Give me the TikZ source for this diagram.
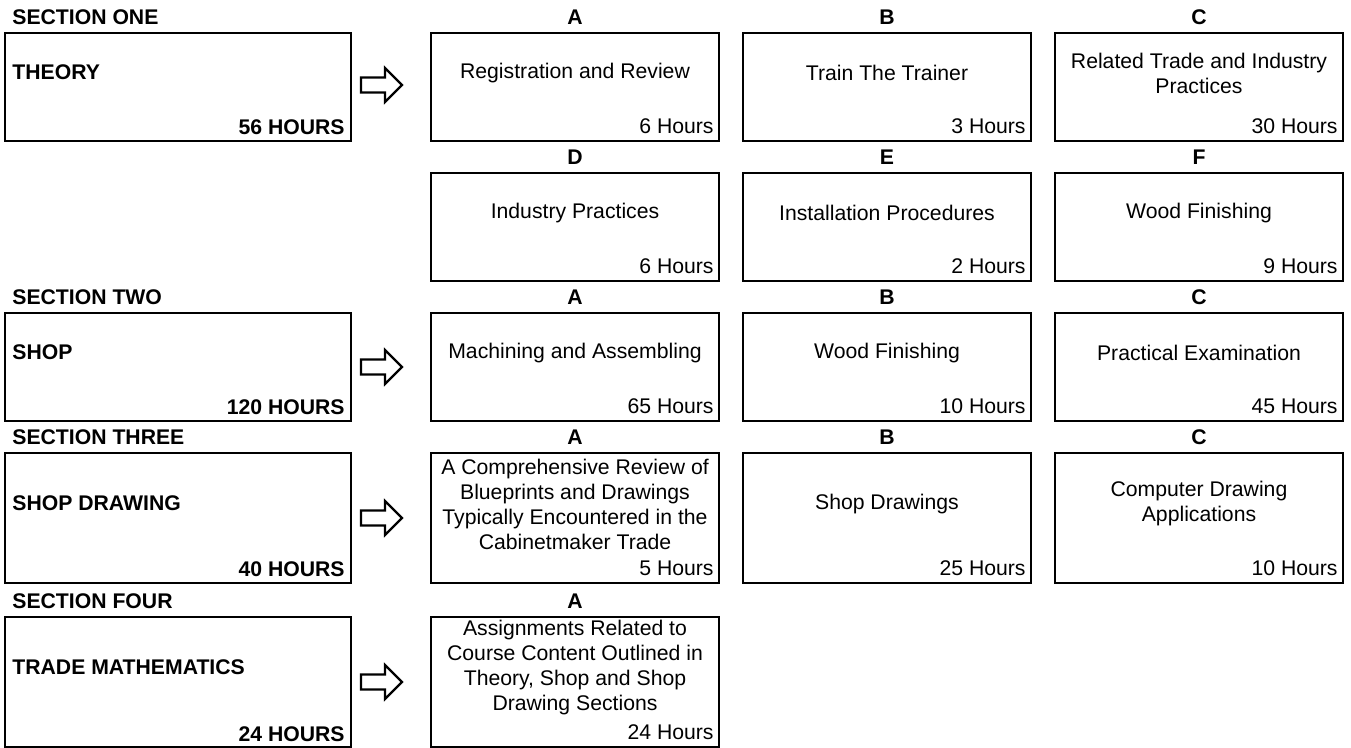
\documentclass[tikz,border=0pt]{standalone}
\usepackage{fontspec}
\setmainfont{Liberation Sans}
\usetikzlibrary{positioning}
\newcommand{\txtsize}{\fontsize{10.6}{12.5}\selectfont}

\begin{document}
\begin{tikzpicture}[
    x=0.5pt, y=-0.5pt,
    node distance=16pt,
    font=\txtsize,
    box/.style={rectangle, draw, line width=1pt, outer sep=0pt, inner sep=0pt, minimum width=144pt, minimum height=54pt},
    tallbox/.style={box, minimum height=65pt},
    secbox/.style={box, minimum width=173pt},
    topic/.style={align=center, inner sep=0pt, yshift=7pt},
    hrs/.style={anchor=base east, inner sep=0pt, xshift=-2.5pt, yshift=3.5pt},
    total/.style={anchor=base east, inner sep=0pt, xshift=-3pt, yshift=3pt, font=\txtsize\bfseries},
    letter/.style={anchor=base, inner sep=0pt, yshift=4pt, font=\txtsize\bfseries},
    seclabel/.style={anchor=base west, inner sep=0pt, xshift=3.5pt, yshift=4pt, font=\txtsize\bfseries},
    title/.style={anchor=west, inner sep=0pt, xshift=3.5pt, yshift=7.5pt, font=\txtsize\bfseries},
    blockarrow/.style={draw, line width=1.1pt, line join=miter}
]
\useasboundingbox (0,0) rectangle (1351,748);

% section one
\node[secbox] (theory) at (178,87) {};
\node[box, right=40pt of theory] (regist) {};
\node[box, right=12pt of regist] (trainer) {};
\node[box, right=12pt of trainer] (related) {};
\node[box, below=of regist] (indus) {};
\node[box, below=of trainer] (install) {};
\node[box, below=of related] (finish) {};

% section two
\node[box, below=of indus] (machin) {};
\node[box, below=of install] (woodfin) {};
\node[box, below=of finish] (exam) {};
\node[secbox, left=40pt of machin] (shop) {};

% section three
\node[tallbox, below=of machin] (review) {};
\node[tallbox, below=of woodfin] (shopdraw) {};
\node[tallbox, below=of exam] (computer) {};
\node[secbox, tallbox, minimum width=173pt, left=40pt of review] (drawing) {};

% section four
\node[tallbox, below=17pt of review] (assign) {};
\node[secbox, tallbox, minimum width=173pt, left=40pt of assign] (maths) {};

% section labels and totals
\node[seclabel] (theory-l) at (theory.north west) {SECTION ONE};
\node[title] (theory-t) at (theory.west) {THEORY};
\node[total] (theory-h) at (theory.south east) {56 HOURS};
\node[seclabel] (shop-l) at (shop.north west) {SECTION TWO};
\node[title] (shop-t) at (shop.west) {SHOP};
\node[total] (shop-h) at (shop.south east) {120 HOURS};
\node[seclabel] (drawing-l) at (drawing.north west) {SECTION THREE};
\node[title] (drawing-t) at (drawing.west) {SHOP DRAWING};
\node[total] (drawing-h) at (drawing.south east) {40 HOURS};
\node[seclabel] (maths-l) at (maths.north west) {SECTION FOUR};
\node[title] (maths-t) at (maths.west) {TRADE MATHEMATICS};
\node[total] (maths-h) at (maths.south east) {24 HOURS};

% course units
\node[letter] (regist-l) at (regist.north) {A};
\node[topic] (regist-t) at (regist.center) {Registration and Review};
\node[hrs] (regist-h) at (regist.south east) {6 Hours};
\node[letter] (trainer-l) at (trainer.north) {B};
\node[topic] (trainer-t) at (trainer.center) {Train The Trainer};
\node[hrs] (trainer-h) at (trainer.south east) {3 Hours};
\node[letter] (related-l) at (related.north) {C};
\node[topic] (related-t) at (related.center) {Related Trade and Industry\\Practices};
\node[hrs] (related-h) at (related.south east) {30 Hours};

\node[letter] (indus-l) at (indus.north) {D};
\node[topic] (indus-t) at (indus.center) {Industry Practices};
\node[hrs] (indus-h) at (indus.south east) {6 Hours};
\node[letter] (install-l) at (install.north) {E};
\node[topic] (install-t) at (install.center) {Installation Procedures};
\node[hrs] (install-h) at (install.south east) {2 Hours};
\node[letter] (finish-l) at (finish.north) {F};
\node[topic] (finish-t) at (finish.center) {Wood Finishing};
\node[hrs] (finish-h) at (finish.south east) {9 Hours};

\node[letter] (machin-l) at (machin.north) {A};
\node[topic] (machin-t) at (machin.center) {Machining and Assembling};
\node[hrs] (machin-h) at (machin.south east) {65 Hours};
\node[letter] (woodfin-l) at (woodfin.north) {B};
\node[topic] (woodfin-t) at (woodfin.center) {Wood Finishing};
\node[hrs] (woodfin-h) at (woodfin.south east) {10 Hours};
\node[letter] (exam-l) at (exam.north) {C};
\node[topic] (exam-t) at (exam.center) {Practical Examination};
\node[hrs] (exam-h) at (exam.south east) {45 Hours};

\node[letter] (review-l) at (review.north) {A};
\node[topic] (review-t) at (review.center) {A Comprehensive Review of\\Blueprints and Drawings\\Typically Encountered in the\\Cabinetmaker Trade};
\node[hrs] (review-h) at (review.south east) {5 Hours};
\node[letter] (shopdraw-l) at (shopdraw.north) {B};
\node[topic] (shopdraw-t) at (shopdraw.center) {Shop Drawings};
\node[hrs] (shopdraw-h) at (shopdraw.south east) {25 Hours};
\node[letter] (computer-l) at (computer.north) {C};
\node[topic] (computer-t) at (computer.center) {Computer Drawing\\Applications};
\node[hrs] (computer-h) at (computer.south east) {10 Hours};

\node[letter] (assign-l) at (assign.north) {A};
\node[topic] (assign-t) at (assign.center) {Assignments Related to\\Course Content Outlined in\\Theory, Shop and Shop\\Drawing Sections};
\node[hrs] (assign-h) at (assign.south east) {24 Hours};

% block arrows
\draw[blockarrow] ([xshift=5pt, yshift=4.75pt]theory.east) -- ++(12pt,0) -- ++(0,4.75pt) -- ++(8.5pt,-8.5pt) -- ++(-8.5pt,-8.5pt) -- ++(0,4.75pt) -- ++(-12pt,0) -- cycle;
\draw[blockarrow] ([xshift=5pt, yshift=3.75pt]shop.east) -- ++(12pt,0) -- ++(0,4.75pt) -- ++(8.5pt,-8.5pt) -- ++(-8.5pt,-8.5pt) -- ++(0,4.75pt) -- ++(-12pt,0) -- cycle;
\draw[blockarrow] ([xshift=5pt, yshift=3.75pt]drawing.east) -- ++(12pt,0) -- ++(0,4.75pt) -- ++(8.5pt,-8.5pt) -- ++(-8.5pt,-8.5pt) -- ++(0,4.75pt) -- ++(-12pt,0) -- cycle;
\draw[blockarrow] ([xshift=5pt, yshift=3.75pt]maths.east) -- ++(12pt,0) -- ++(0,4.75pt) -- ++(8.5pt,-8.5pt) -- ++(-8.5pt,-8.5pt) -- ++(0,4.75pt) -- ++(-12pt,0) -- cycle;
\end{tikzpicture}
\end{document}
